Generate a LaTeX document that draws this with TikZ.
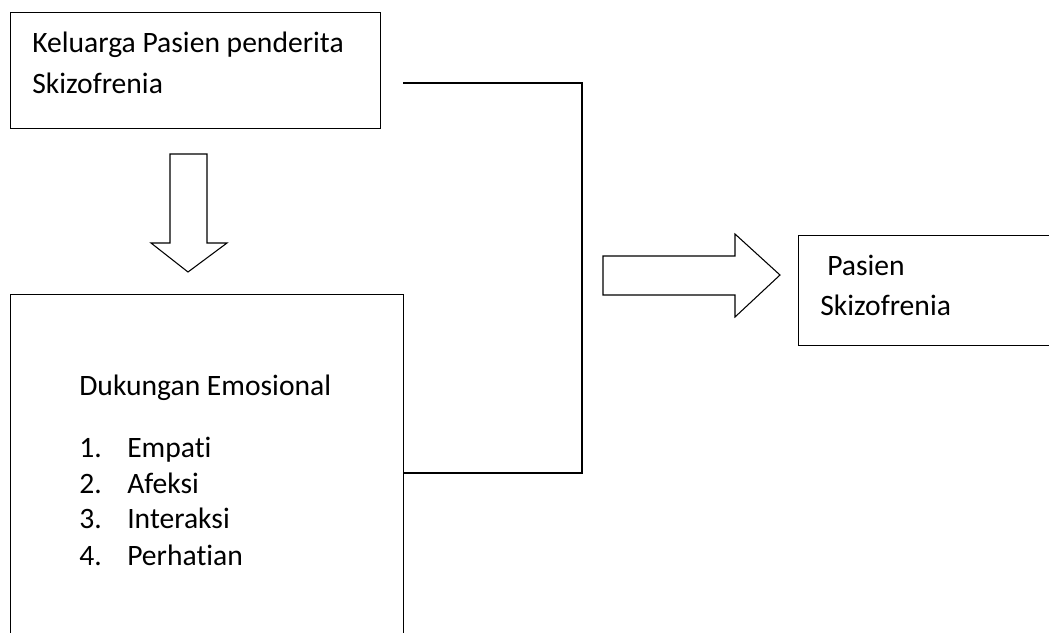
\documentclass[tikz,border=0pt]{standalone}
\usepackage{fontspec}
\setmainfont{Carlito}[Ligatures={NoCommon,NoContextual}]
\begin{document}
\begin{tikzpicture}[x=0.75pt,y=-0.75pt,
  box/.style={draw, line width=1.1pt, rectangle, anchor=north west, inner sep=0pt},
  txt/.style={anchor=base west, inner sep=0pt, font=\fontsize{22.2}{26}\selectfont},
  blockarrow/.style={draw, line width=0.8pt, line join=miter},
  conn/.style={draw, line width=1pt}]
\useasboundingbox (0,0) rectangle (1049,632);
\clip (0,0) rectangle (1049,632);
% boxes
\node[box, minimum width=277.5pt, minimum height=87pt] (top) at (10,12) {};
\node[box, minimum width=294.75pt, minimum height=300pt] (bot) at (10,294) {};
\node[box, minimum width=240pt, minimum height=82.5pt] (right) at (798,235) {};
% texts
\node[txt] (t1) at (32,52) {Keluarga Pasien penderita};
\node[txt] (t2) at (32,93) {Skizofrenia};
\node[txt] (d0) at (79,395) {Dukungan Emosional};
\node[txt] (n1) at (79,457) {1.};
\node[txt] (i1) at (127,457) {Empati};
\node[txt] (n2) at (79,493) {2.};
\node[txt] (i2) at (127,493) {Afeksi};
\node[txt] (n3) at (79,528) {3.};
\node[txt] (i3) at (127,528) {Interaksi};
\node[txt] (n4) at (79,565) {4.};
\node[txt] (i4) at (127,565) {Perhatian};
\node[txt] (p1) at (827,275) {Pasien};
\node[txt] (p2) at (820,315) {Skizofrenia};
% block arrows
\draw[blockarrow] (170,154) -- (207,154) -- (207,243) -- (227,243) -- (188,272)
  -- (151,243) -- (170,243) -- cycle;
\draw[blockarrow] (603,256) -- (735,256) -- (735,234) -- (780,275) -- (735,317)
  -- (735,295) -- (603,295) -- cycle;
% connector
\coordinate (s) at (403,83);
\coordinate (j) at (582,473);
\draw[conn] (s) -| (j) -- (bot.east |- j);
\end{tikzpicture}
\end{document}
